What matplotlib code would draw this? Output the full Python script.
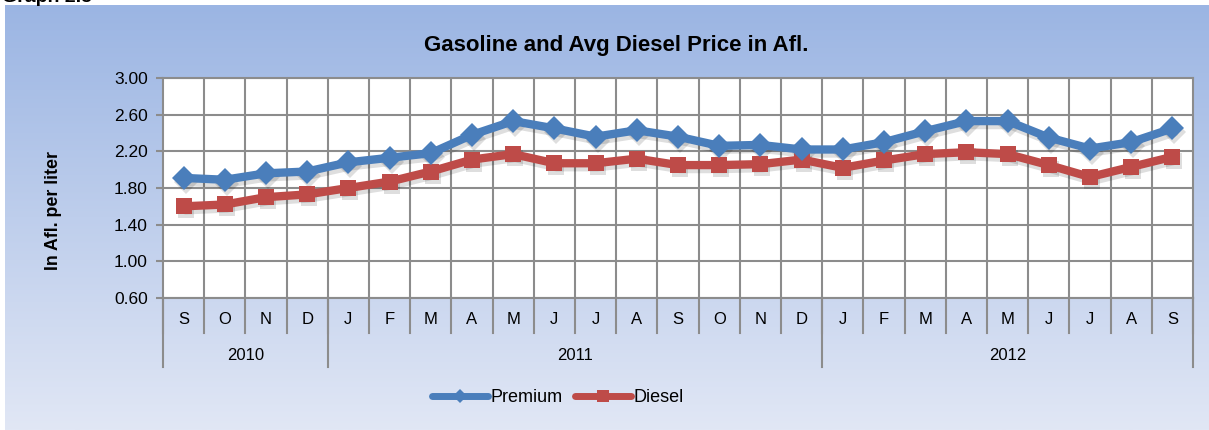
import matplotlib.pyplot as plt
from matplotlib.lines import Line2D
from matplotlib.transforms import offset_copy
import numpy as np

plt.rcParams["font.family"] = ["Liberation Sans", "DejaVu Sans"]

months = ["S", "O", "N", "D", "J", "F", "M", "A", "M", "J", "J", "A", "S",
          "O", "N", "D", "J", "F", "M", "A", "M", "J", "J", "A", "S"]
years = ["2010", "2011", "2012"]
year_bounds = [0, 4, 16, 25]

premium = [1.91, 1.89, 1.96, 1.98, 2.08, 2.13, 2.18, 2.38, 2.53, 2.45, 2.36, 2.43, 2.36,
           2.26, 2.27, 2.22, 2.22, 2.30, 2.42, 2.53, 2.53, 2.35, 2.23, 2.30, 2.45]
diesel = [1.60, 1.62, 1.70, 1.73, 1.80, 1.87, 1.98, 2.11, 2.17, 2.07, 2.07, 2.12, 2.05,
          2.05, 2.06, 2.11, 2.02, 2.10, 2.17, 2.19, 2.17, 2.05, 1.92, 2.03, 2.14]
yticks = [0.60, 1.00, 1.40, 1.80, 2.20, 2.60, 3.00]

blue = "#4A7EBB"
red = "#BE4B48"
grid = "#8C8C8C"

W, H = 1209, 430
fig = plt.figure(figsize=(W / 100, H / 100), dpi=100)
fig.patch.set_facecolor("white")

# gradient background of the chart area
bg = fig.add_axes([5 / W, 0, 1 - 5 / W, 1 - 5 / H])
top = np.array([155, 181, 227]) / 255
bot = np.array([225, 231, 245]) / 255
t = np.linspace(0, 1, 256)[:, None]
grad = top[None, :] * (1 - t) + bot[None, :] * t
bg.imshow(grad[:, None, :], aspect="auto", extent=[0, 1, 0, 1])
bg.set_axis_off()

# caption above the chart, mostly cut off by the page edge as in the source
fig.text(2 / W, 1 - 2 / H, "Graph 2.5", fontsize=14, fontweight="bold",
         va="baseline", ha="left")

left, right, ytop, ybot = 163, 1193, 78, 298
ax = fig.add_axes([left / W, 1 - ybot / H, (right - left) / W, (ybot - ytop) / H])
ax.set_facecolor("white")

x = np.arange(len(months)) + 0.5
sh = offset_copy(ax.transData, fig=fig, x=2, y=-4, units="dots")
for vals, mk, ms in [(premium, "D", 12), (diesel, "s", 12)]:
    ax.plot(x, vals, color="black", alpha=0.13, lw=6, marker=mk, ms=ms,
            markeredgewidth=0, solid_capstyle="round", transform=sh, zorder=2)
ax.plot(x, premium, color=blue, lw=6, marker="D", ms=12.5, markeredgewidth=0,
        solid_capstyle="round", zorder=4)
ax.plot(x, diesel, color=red, lw=6, marker="s", ms=12, markeredgewidth=0,
        solid_capstyle="round", zorder=3)

ax.set_xlim(0, len(months))
ax.set_ylim(0.6, 3.0)
ax.set_yticks(yticks)
ax.set_yticklabels([f"{v:.2f}" for v in yticks], fontsize=12.5)
ax.set_xticks(np.arange(1, len(months)))
ax.set_xticklabels([])
ax.tick_params(axis="x", length=0)
ax.tick_params(axis="y", length=5, width=1.5, color=grid, pad=6)
ax.grid(True, color=grid, lw=1.5)
ax.set_axisbelow(True)
for s in ax.spines.values():
    s.set_color(grid)
    s.set_linewidth(1.5)

# two-level category axis
ph = ybot - ytop
xt = ax.get_xaxis_transform()
for i in range(len(months) + 1):
    ax.add_line(Line2D([i, i], [0, -35 / ph], transform=xt, color=grid, lw=1.5, clip_on=False))
for i, m in enumerate(months):
    ax.text(i + 0.5, -22 / ph, m, transform=xt, ha="center", va="center", fontsize=12)
for b in year_bounds:
    ax.add_line(Line2D([b, b], [0, -69 / ph], transform=xt, color=grid, lw=1.5, clip_on=False))
for j, yr in enumerate(years):
    mid = (year_bounds[j] + year_bounds[j + 1]) / 2
    ax.text(mid, -57 / ph, yr, transform=xt, ha="center", va="center", fontsize=12)

fig.text(616 / W, 1 - 45 / H, "Gasoline and Avg Diesel Price in Afl.",
         fontsize=16, fontweight="bold", ha="center", va="center")
fig.text(53 / W, 1 - 210 / H, "In Afl. per liter", fontsize=12.8, fontweight="bold",
         rotation=90, ha="center", va="center")

handles = [Line2D([], [], color=blue, lw=5, marker="D", ms=7, markeredgewidth=0,
                  solid_capstyle="round"),
           Line2D([], [], color=red, lw=5, marker="s", ms=9, markeredgewidth=0,
                  solid_capstyle="round")]
fig.legend(handles, ["Premium", "Diesel"], loc="center", bbox_to_anchor=(558 / W, 1 - 398 / H),
           ncol=2, frameon=False, fontsize=13, handlelength=3.1, handletextpad=0.15,
           columnspacing=0.65)

fig.savefig("out.png", dpi=100)
